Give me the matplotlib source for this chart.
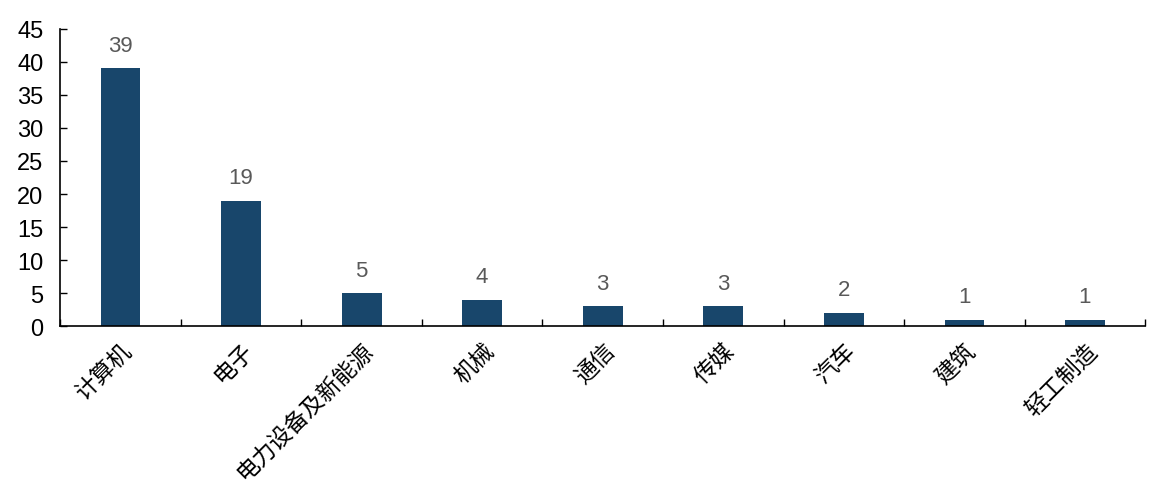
import matplotlib.pyplot as plt
import numpy as np

plt.rcParams['font.family'] = ['Liberation Sans', 'Noto Sans CJK SC', 'DejaVu Sans']

# data
industries = ['计算机', '电子', '电力设备及新能源', '机械', '通信', '传媒', '汽车', '建筑', '轻工制造']
counts = [39, 19, 5, 4, 3, 3, 2, 1, 1]
y_ticks = [0, 5, 10, 15, 20, 25, 30, 35, 40, 45]

x = np.arange(len(industries))

fig = plt.figure(figsize=(11.58, 4.89), dpi=100)
ax = fig.add_axes([0.052, 0.331, 0.937, 0.608])

bars = ax.bar(x, counts, width=0.33, color='#18466b', zorder=2)
for xi, v in zip(x, counts):
    ax.annotate(str(v), (xi, v), xytext=(0, 9), textcoords='offset points',
                ha='center', va='bottom', fontsize=16, color='#595959')

ax.set_xlim(-0.5, len(industries) - 0.5)
ax.set_ylim(0, 45)
ax.set_yticks(y_ticks)
ax.tick_params(axis='y', direction='in', length=5, labelsize=17, pad=12, width=1)

# x ticks sit between categories, labels centred on bars
ax.set_xticks(np.arange(len(industries) + 1) - 0.5)
ax.set_xticklabels([])
ax.tick_params(axis='x', which='major', direction='in', length=5, width=1)
ax.set_xticks(x, minor=True)
ax.set_xticklabels(industries, minor=True, rotation=45, ha='right', va='top',
                   rotation_mode='anchor', fontsize=16.5, family=['Noto Sans CJK SC'])
ax.tick_params(axis='x', which='minor', length=0, pad=9)

for s in ['top', 'right']:
    ax.spines[s].set_visible(False)
ax.spines['left'].set_linewidth(1.2)
ax.spines['bottom'].set_linewidth(1.2)

fig.savefig('out.png', dpi=100)
